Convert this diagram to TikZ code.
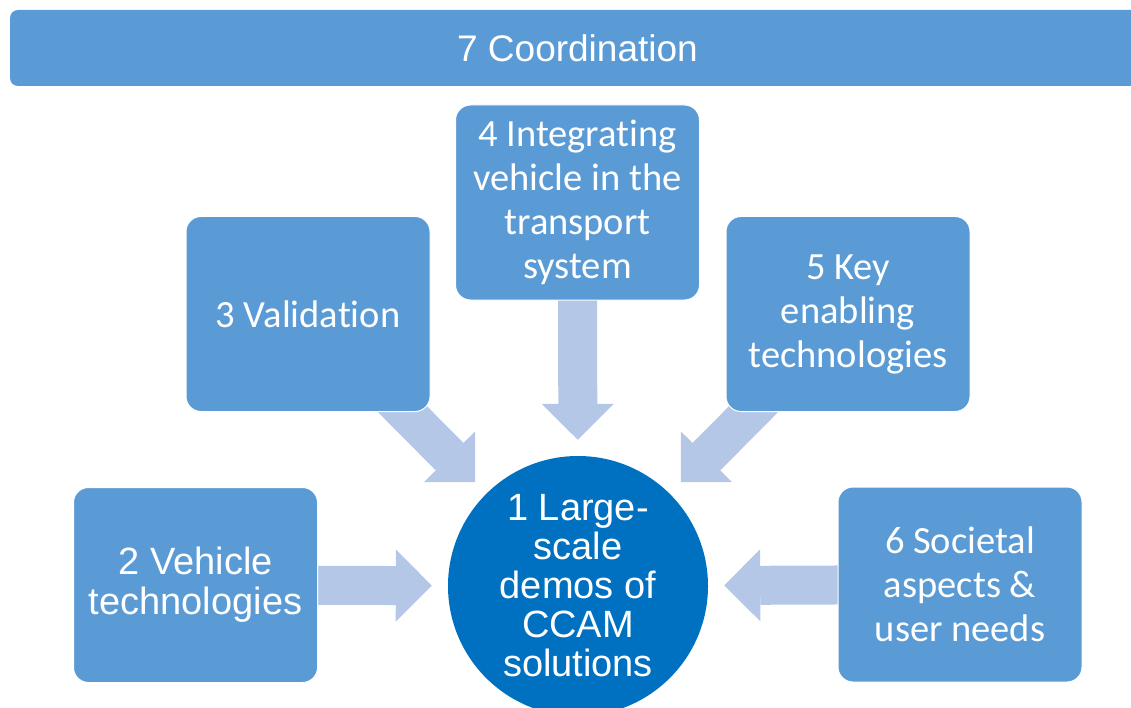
\documentclass[tikz,border=0pt]{standalone}
\usepackage{fontspec}
\setmainfont[Ligatures=NoCommon]{Carlito}
\newfontfamily\arialfont{Liberation Sans}
\usetikzlibrary{arrows.meta,backgrounds}
\definecolor{boxblue}{HTML}{5B9BD5}
\definecolor{hubblue}{HTML}{0070C0}
\definecolor{arrowblue}{HTML}{B4C7E7}
\tikzset{
  wp/.style={rectangle,rounded corners=15pt,fill=boxblue,draw=white,line width=1pt,
    minimum width=244pt,minimum height=195pt,inner sep=0pt,text=white,align=center,
    font=\fontsize{38.5}{44}\selectfont},
  wparial/.style={wp,font=\arialfont\fontsize{38}{40}\selectfont},
  hubnode/.style={circle,fill=hubblue,minimum size=260pt,inner sep=0pt,text=white,
    align=center,font=\arialfont\fontsize{38}{39}\selectfont},
  bar/.style={rectangle,rounded corners=8pt,fill=boxblue,minimum width=1135pt,
    minimum height=76pt,text=white,font=\arialfont\fontsize{37}{40}\selectfont},
  bigarrow/.style={draw=arrowblue,line width=39pt,
    -{Triangle[length=36pt,width=72pt,line width=0pt]},shorten >=16pt}
}
\begin{document}
\begin{tikzpicture}[x=1pt,y=-1pt]
\useasboundingbox (0,0) rectangle (1131,708);
% work packages
\node[bar] (coord) at (577.5,48) {7 Coordination};
\node[wparial] (b2) at (195.5,585) {2 Vehicle\\technologies};
\node[wp] (b3) at (308,314) {3 Validation};
\node[wp] (b4) at (577.5,202.5) {4 Integrating\\vehicle in the\\transport\\system};
\node[wp] (b5) at (848,314) {5 Key\\enabling\\technologies};
\node[wp] (b6) at (960,584.5) {6 Societal\\aspects \&\\user needs};
\node[hubnode] (demos) at (578,586) {1 Large-\\scale\\demos of\\CCAM\\solutions};
% block arrows into the demos
\begin{scope}[on background layer]
\foreach \b in {b2,b3,b4,b5,b6}{
	\draw[bigarrow] (\b.center) -- (demos);}
\end{scope}
\end{tikzpicture}
\end{document}
